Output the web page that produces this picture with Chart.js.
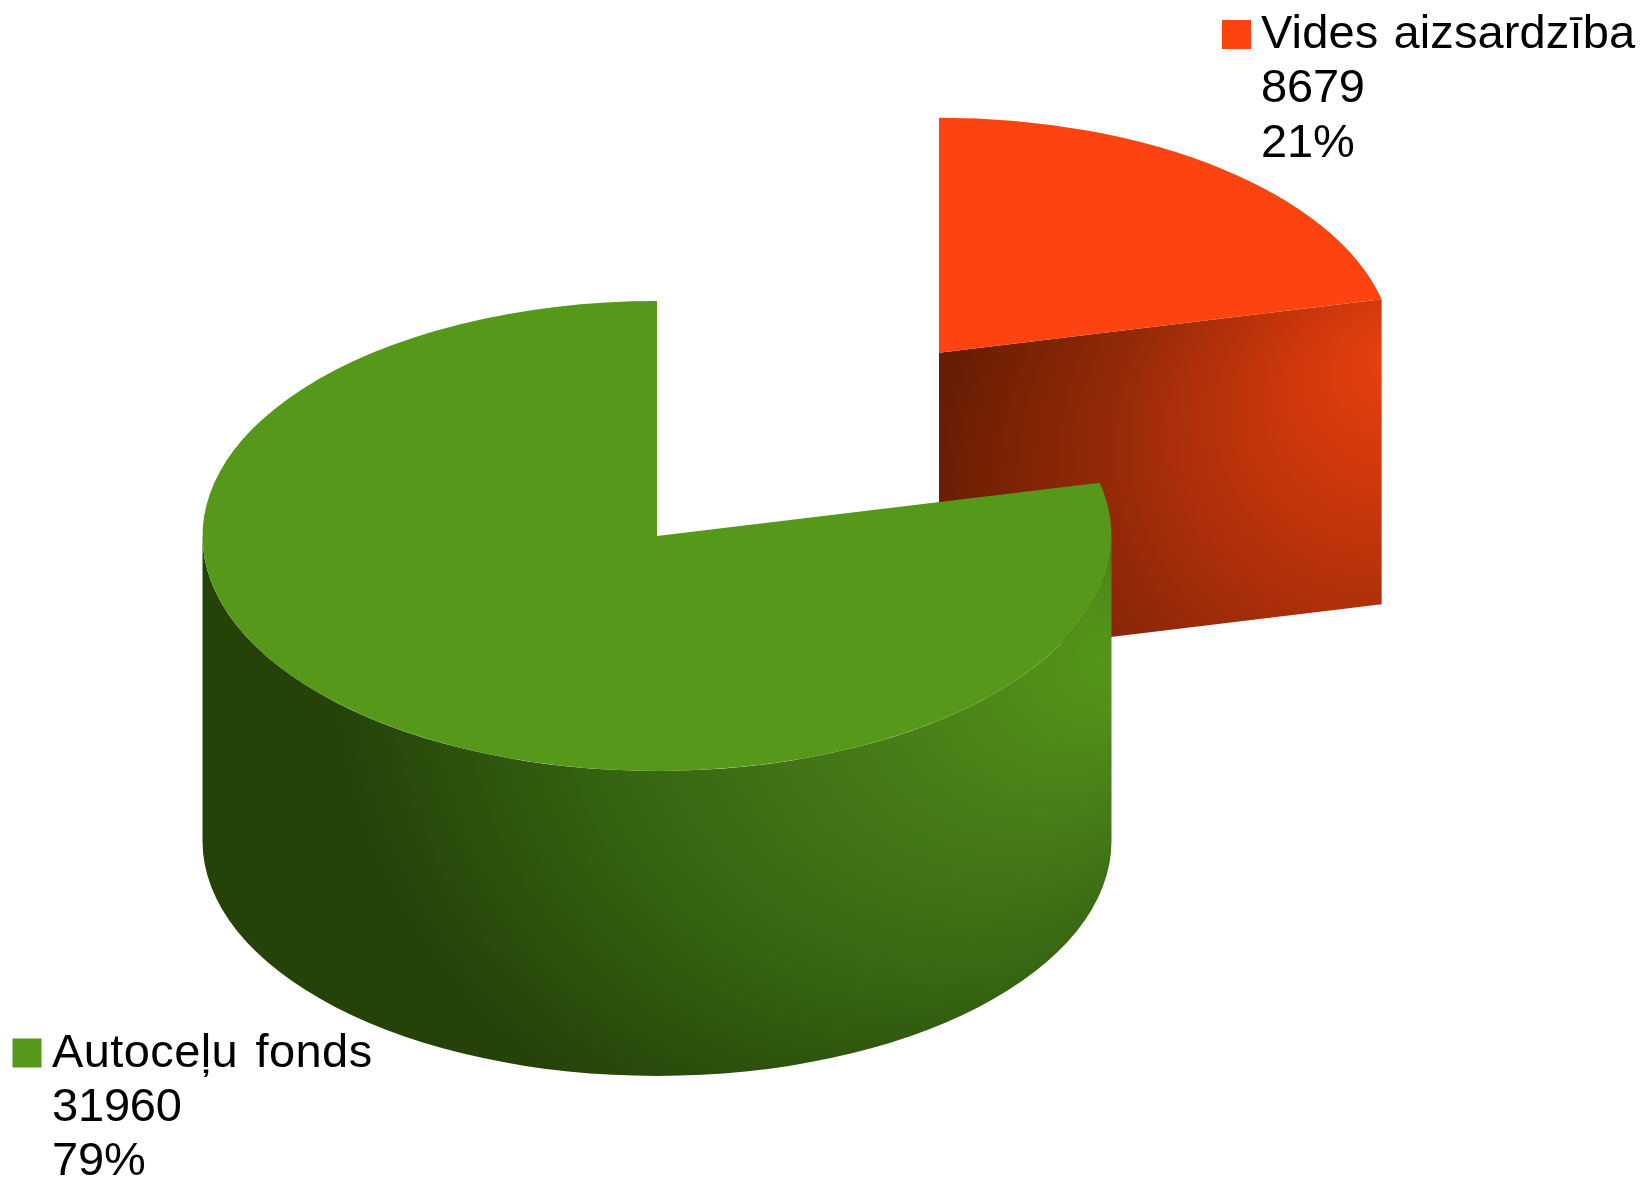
<!DOCTYPE html>
<html>
<head>
<meta charset="utf-8">
<style>html,body{margin:0;padding:0;background:#fff}canvas{display:block}</style>
<script src="https://cdn.jsdelivr.net/npm/chart.js@4"></script>
</head>
<body>
<canvas id="c" width="1642" height="1178"></canvas>
<script>
const categories = ['Vides aizsardzība', 'Autoceļu fonds'];
const values = [8679, 31960];
const percents = ['21%', '79%'];
const colors = ['#fc4310', '#55981a'];

const RX = 454.5, RY = 235, DEPTH = 305;
const centers = [{x: 939, y: 352.7}, {x: 657, y: 536}];
const legendSpots = [
  {sx: 1222, sy: 20, tx: 1261, base: [47.7, 101.7, 156.7], title: {letter: '0.12px', word: '2px'}},
  {sx: 12.5, sy: 1038.5, tx: 52, base: [1066.7, 1120.7, 1174.5], title: {letter: '0.4px', word: '4px'}}
];

function wallFill(ctx, i) {
  if (i === 0) {
    const g = ctx.createRadialGradient(1400, 350, 0, 1340, 520, 420);
    g.addColorStop(0, '#ea410f');
    g.addColorStop(0.3, '#c4350b');
    g.addColorStop(0.6, '#962a08');
    g.addColorStop(1, '#651d03');
    return g;
  }
  const g = ctx.createRadialGradient(1130, 660, 0, 829, 660, 500);
  g.addColorStop(0, '#55981a');
  g.addColorStop(0.3, '#487f18');
  g.addColorStop(0.65, '#376612');
  g.addColorStop(1, '#254209');
  return g;
}

const pie3d = {
  id: 'pie3d',
  beforeDatasetDraw(chart, args) {
    const ctx = chart.ctx;
    const arcs = chart.getDatasetMeta(args.index).data;
    arcs.forEach((el, i) => {
      const c = centers[i];
      const k = RY / RX;
      const a0 = el.startAngle, a1 = el.endAngle;
      ctx.save();
      ctx.fillStyle = wallFill(ctx, i);
      // cut face at the end of the slice
      if (Math.sin(a1 + Math.PI / 2) > 0) {
        const px = c.x + RX * Math.cos(a1), py = c.y + RY * Math.sin(a1);
        ctx.beginPath();
        ctx.moveTo(c.x, c.y);
        ctx.lineTo(px, py);
        ctx.lineTo(px, py + DEPTH);
        ctx.lineTo(c.x, c.y + DEPTH);
        ctx.closePath();
        ctx.fill();
      }
      // visible front of the rim
      const from = Math.max(a0, 0), to = Math.min(a1, Math.PI);
      if (to > from) {
        ctx.beginPath();
        ctx.ellipse(c.x, c.y, RX, RY, 0, from, to, false);
        ctx.ellipse(c.x, c.y + DEPTH, RX, RY, 0, to, from, true);
        ctx.closePath();
        ctx.fill();
      }
      // top face: the library's own arc
      ctx.translate(c.x, c.y);
      ctx.scale(1, k);
      ctx.translate(-el.x, -el.y);
      el.draw(ctx);
      ctx.restore();
    });
    return false;
  },
  afterDraw(chart) {
    const ctx = chart.ctx;
    ctx.save();
    ctx.fillStyle = '#000';
    ctx.font = '47px "Liberation Sans"';
    ctx.textBaseline = 'alphabetic';
    ctx.textAlign = 'left';
    categories.forEach((name, i) => {
      const s = legendSpots[i];
      ctx.save();
      ctx.fillStyle = colors[i];
      ctx.fillRect(s.sx, s.sy, 29, 29);
      ctx.restore();
      [name, String(values[i]), percents[i]].forEach((t, j) => {
        ctx.letterSpacing = j === 0 ? s.title.letter : '-0.2px';
        ctx.wordSpacing = j === 0 ? s.title.word : '0px';
        ctx.fillText(t, s.tx, s.base[j]);
      });
    });
    ctx.restore();
  }
};

new Chart(document.getElementById('c'), {
  type: 'pie',
  data: {
    labels: categories,
    datasets: [{data: values, backgroundColor: colors, borderWidth: 0, radius: RX}]
  },
  options: {
    responsive: false,
    devicePixelRatio: 1,
    animation: false,
    plugins: {legend: {display: false}, tooltip: {enabled: false}}
  },
  plugins: [pie3d]
});
</script>
</body>
</html>
